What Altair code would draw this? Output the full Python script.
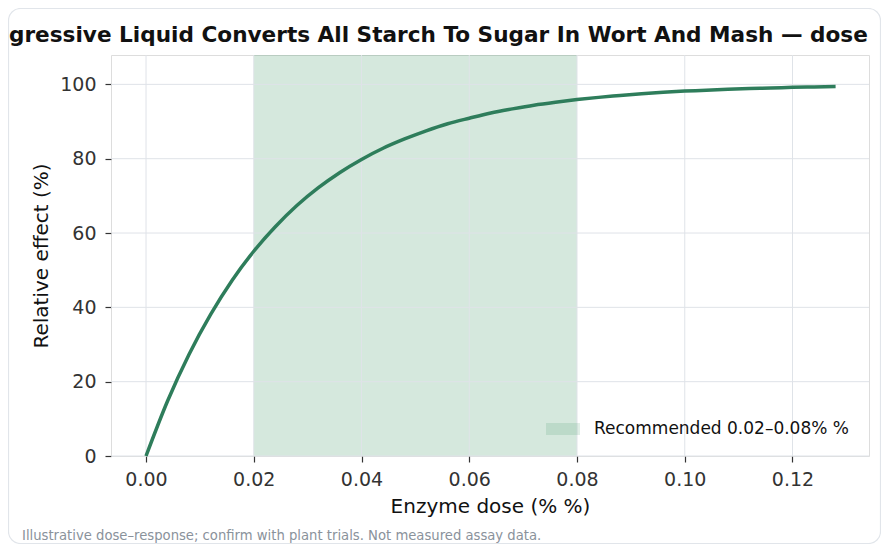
import altair as alt
import pandas as pd

# ---- data ----
dose = [0.000, 0.004, 0.008, 0.012, 0.016, 0.020, 0.024, 0.028, 0.032, 0.036,
        0.040, 0.044, 0.048, 0.052, 0.056, 0.060, 0.064, 0.068, 0.072, 0.076,
        0.080, 0.084, 0.088, 0.092, 0.096, 0.100, 0.104, 0.108, 0.112, 0.116,
        0.120, 0.124, 0.128]
effect = [0.0, 14.8, 27.4, 38.1, 47.3, 55.1, 61.7, 67.4, 72.2, 76.3,
          79.8, 82.8, 85.3, 87.5, 89.4, 90.9, 92.3, 93.4, 94.4, 95.2,
          95.9, 96.5, 97.0, 97.5, 97.9, 98.2, 98.4, 98.7, 98.9, 99.0,
          99.2, 99.3, 99.4]
x_ticks = [0.00, 0.02, 0.04, 0.06, 0.08, 0.10, 0.12]
y_ticks = [0, 20, 40, 60, 80, 100]
band_lo = [0.02]
band_hi = [0.08]
band_label = ["Recommended 0.02–0.08% %"]
title_text = ["gressive Liquid Converts All Starch To Sugar In Wort And Mash — dose"]
x_title = "Enzyme dose (% %)"
y_title = "Relative effect (%)"
footnote = ["Illustrative dose–response; confirm with plant trials. Not measured assay data."]

FONT = "DejaVu Sans"
LINE = "#2e7d5b"
BAND = "#2e8b57"
GRID = "#dfe3e8"

W, H = 758, 401

xscale = alt.Scale(domain=[-0.0065, 0.1342], nice=False, zero=False)
yscale = alt.Scale(domain=[0, 107.9], nice=False, zero=False)

x_axis = alt.Axis(values=x_ticks, format=".2f", grid=False, domain=False,
                  tickColor="#333333", tickSize=6, tickWidth=1.2,
                  labelFontSize=19, labelColor="#333333", labelPadding=8,
                  labelFont=FONT, title=x_title, titleFont=FONT,
                  titleFontSize=20, titleFontWeight="normal", titleColor="#111111",
                  titlePadding=7)
y_axis = alt.Axis(values=y_ticks, format="d", grid=False, domain=False,
                  tickColor="#333333", tickSize=6, tickWidth=1.2,
                  labelFontSize=19, labelColor="#333333", labelPadding=9,
                  labelFont=FONT, title=y_title, titleFont=FONT,
                  titleFontSize=20, titleFontWeight="normal", titleColor="#111111",
                  titlePadding=8)

curve_df = pd.DataFrame({"dose": dose, "effect": effect})
band_df = pd.DataFrame({"lo": band_lo, "hi": band_hi, "label": band_label})
xg_df = pd.DataFrame({"dose": x_ticks})
yg_df = pd.DataFrame({"effect": y_ticks})
note_df = pd.DataFrame({"t": footnote})
title_df = pd.DataFrame({"t": title_text})

card = alt.Chart(pd.DataFrame({"k": [0]})).mark_rect(
    filled=False, stroke="#e1e5ea", strokeWidth=1.2, cornerRadius=12, clip=False
).encode(x=alt.value(-102.5), x2=alt.value(769.5), y=alt.value(-46.5), y2=alt.value(488.5))

band = alt.Chart(band_df).mark_rect(opacity=0.2).encode(
    x=alt.X("lo:Q", scale=xscale, axis=x_axis),
    x2="hi:Q",
    color=alt.Color("label:N", scale=alt.Scale(domain=band_label, range=[BAND]),
                    title=None,
                    legend=alt.Legend(orient="none", legendX=435, legendY=357,
                                      symbolType="M-1,-0.36L1,-0.36L1,0.36L-1,0.36Z",
                                      symbolSize=1156, symbolStrokeWidth=0,
                                      symbolOpacity=0.15,
                                      labelFontSize=17, labelFont=FONT, labelLimit=500,
                                      labelColor="#111111", labelOffset=14,
                                      padding=0)),
)

xgrid = alt.Chart(xg_df).mark_rule(color=GRID, strokeWidth=1).encode(
    x=alt.X("dose:Q", scale=xscale, axis=x_axis))
ygrid = alt.Chart(yg_df).mark_rule(color=GRID, strokeWidth=1).encode(
    y=alt.Y("effect:Q", scale=yscale, axis=y_axis))

line = alt.Chart(curve_df).mark_line(color=LINE, strokeWidth=3.5, interpolate="monotone").encode(
    x=alt.X("dose:Q", scale=xscale, axis=x_axis),
    y=alt.Y("effect:Q", scale=yscale, axis=y_axis),
)

note = alt.Chart(note_df).mark_text(
    align="left", baseline="middle", fontSize=13.2, font=FONT, color="#8a929b", clip=False
).encode(x=alt.value(-89), y=alt.value(481), text="t:N")

title = alt.Chart(title_df).mark_text(
    align="left", baseline="middle", fontSize=21.6, fontWeight="bold", font=FONT,
    color="#111111", clip=False
).encode(x=alt.value(-102), y=alt.value(-19), text="t:N")

chart = alt.layer(card, band, xgrid, ygrid, line, note, title).properties(
    width=W, height=H,
    autosize=alt.AutoSizeParams(type="none"),
    padding={"left": 103, "top": 47, "right": 12, "bottom": 88},
).configure_view(stroke="#3a3a3a", strokeWidth=1.6).configure(background="white")

chart.save("out.html", embed_options={"renderer": "svg", "actions": False})
